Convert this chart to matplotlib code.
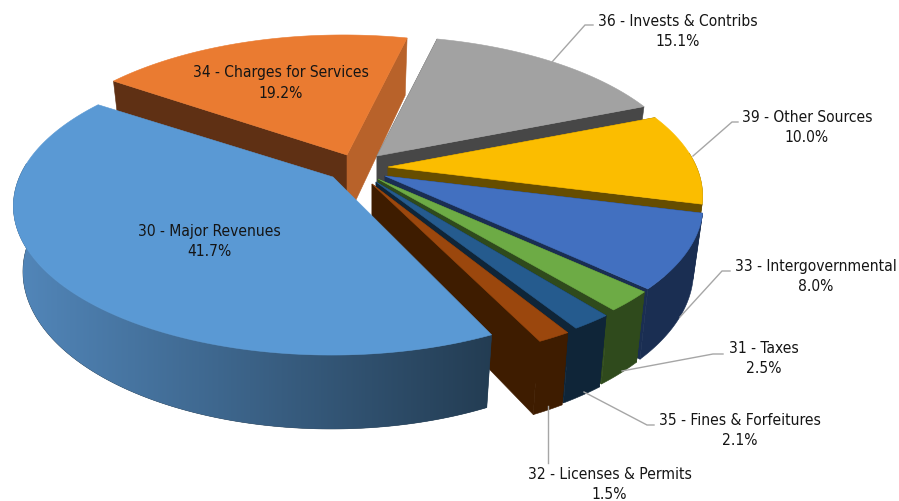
import numpy as np
import matplotlib
matplotlib.use("Agg")
import matplotlib.pyplot as plt
from matplotlib.colors import to_rgb
from matplotlib.patches import Polygon

# slices, clockwise from the start angle
names = ["30 - Major Revenues", "34 - Charges for Services", "36 - Invests & Contribs",
         "39 - Other Sources", "33 - Intergovernmental", "31 - Taxes",
         "35 - Fines & Forfeitures", "32 - Licenses & Permits"]
shares = [41.7, 19.2, 15.1, 10.0, 8.0, 2.5, 2.1, 1.5]

top_colors = ["#5A99D4", "#EA7B31", "#A2A2A2", "#FBBD00", "#4270C0", "#6DAB45", "#255B8E", "#9B470D"]
start_walls = ["#2A4A66", "#5F3014", "#474747", "#664D00", "#1A2E52", "#2F4A1C", "#0F2538", "#3E1C00"]
end_walls = ["#2A4A66", "#B8622A", "#474747", "#664D00", "#1A2E52", "#2F4A1C", "#0F2538", "#3E1C00"]
outer_walls = ["#233C52", "#5F3014", "#474747", "#664D00", "#1A2E52", "#2F4A1C", "#0F2538", "#3E1C00"]
major_wall_left = "#5388BC"

# where each exploded slice has its point, in pixels
tips = [(333, 178), (347, 156), (377, 157), (388, 168), (385, 177), (378, 180), (376, 183), (372, 185)]
rim_shift = [-1.5, -3.5, -3.5, -3.5, 0, 3.5, 3.5, 6]
end_trim = [1.0, 0, 0, 0, 0, 1.2, 1.3, 0.3]
start_angle = 155.0
A, B, K = 312.0, 143.4, 0.1946
A_LOW, B_LOW, DROP = 0.97 * A, 151.4, 64.0

# label text centres, first line
label_pos = [(209, 232), (281, 73), (678, 21), (807, 118), (816, 267), (764, 349), (740, 421), (609.5, 475)]
leaders = {
    2: [(552, 63), (585, 26), (593, 26)],
    3: [(693, 157), (732, 123), (738, 123)],
    4: [(680, 318), (722, 272), (730, 272)],
    5: [(622, 372), (713, 355), (723, 355)],
    6: [(584, 393), (647, 426), (654, 426)],
    7: [(548, 407), (548, 464)],
}


def project(i, theta, radius=1.0, low=False):
    tip = tips[i]
    x = radius * np.sin(theta)
    y = radius * np.cos(theta)
    f = 1.0 / (1.0 + K * y)
    shift = rim_shift[i] * radius
    if low:
        return tip[0] + A_LOW * x * f + shift, tip[1] - B_LOW * y * f + DROP
    return tip[0] + A * x * f + shift, tip[1] - B * y * f


fig = plt.figure(figsize=(8.99, 5.02), dpi=100)
ax = fig.add_axes([0, 0, 1, 1])
z = [1]


def fill(pts, color):
    z[0] += 1
    p = Polygon(pts, closed=True, facecolor=color, edgecolor=color, linewidth=0.4, zorder=z[0])
    ax.add_patch(p)
    return p


fractions = np.array(shares) / sum(shares)
bounds = np.radians(start_angle + 360 * np.concatenate([[0], np.cumsum(fractions)]))

# back slices first, the big slice last as it sits in front
order = [1, 2, 3, 4, 5, 6, 7, 0]
for i in order:
    t0, t1 = bounds[i], bounds[i + 1]
    wall_thetas = np.linspace(t0, t1, 240)
    top_thetas = np.linspace(t0, t1 - np.radians(end_trim[i]), 240)

    # the big slice hides both of its flat walls
    if i != 0:
        for t, col in [(t0, start_walls[i]), (t1, end_walls[i])]:
            fill([project(i, t), project(i, t, low=True), project(i, t, 0.0, low=True), project(i, t, 0.0)], col)

    near = wall_thetas[np.cos(wall_thetas) < 0.1]
    if len(near) > 1:
        wall = [project(i, t) for t in near] + [project(i, t, low=True) for t in near[::-1]]
        p = fill(wall, outer_walls[i])
        if i == 0:
            # the big slice gets darker towards its right end
            left = np.array(to_rgb(major_wall_left))
            right = np.array(to_rgb(outer_walls[0]))
            ramp = np.linspace(0, 1, 256)[None, :, None]
            img = ax.imshow((1 - ramp) * left + ramp * right, extent=(5, 495, 450, 200),
                            aspect="auto", zorder=z[0] + 0.5)
            img.set_clip_path(p)

    fill([tips[i]] + [project(i, t) for t in top_thetas], top_colors[i])

ax.set_xlim(0, 899)
ax.set_ylim(502, 0)
ax.axis("off")

for i, pts in leaders.items():
    xs, ys = zip(*pts)
    ax.plot(xs, ys, color="#A6A6A6", linewidth=1.0, solid_joinstyle="miter", zorder=200)

font = dict(ha="center", va="center", fontsize=11.2, color="#151515", family="DejaVu Sans",
            stretch="condensed", zorder=300)
for i, (x, y) in enumerate(label_pos):
    ax.text(x, y, names[i], **font)
    ax.text(x, y + 20, f"{shares[i]:.1f}%", **font)

fig.savefig("out.png", dpi=100)
